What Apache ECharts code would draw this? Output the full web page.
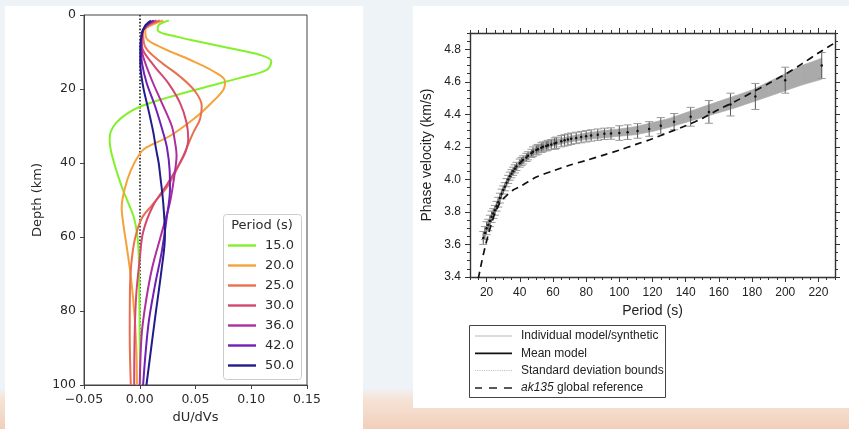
<!DOCTYPE html>
<html><head><meta charset="utf-8">
<script src="https://cdn.jsdelivr.net/npm/echarts@6/dist/echarts.min.js"></script>
<style>
html,body{margin:0;padding:0;width:849px;height:429px;overflow:hidden;
background:linear-gradient(to bottom,#eef3f8 0px,#eef3f8 388px,#f6e4d8 398px,#f2cfb9 429px);}
.card{position:absolute;background:#fff;}
#c1{left:5px;top:6px;width:358px;height:423px;}
#c2{left:413px;top:6px;width:436px;height:402px;}
#chart{position:absolute;left:0;top:0;width:849px;height:429px;}
</style></head><body>
<div class="card" id="c1"></div><div class="card" id="c2"></div>
<div id="chart"></div>
<script>
// ---------- Left panel: sensitivity kernels [dU/dVs, depth km] ----------
const periodsLeft = ['15.0','20.0','25.0','30.0','36.0','42.0','50.0'];
const k15 = [[0.026,1.5],[0.017,2.7],[0.016,4.0],[0.020,4.9],[0.030,5.6],[0.045,6.7],[0.081,9.0],[0.108,10.8],[0.118,12.5],[0.114,14.8],[0.090,17.0],[0.060,19.4],[0.024,22.4],[0.0,24.8],[-0.012,26.8],[-0.021,29.1],[-0.026,31.5],[-0.027,33.6],[-0.026,36.5],[-0.022,41],[-0.016,46.5],[-0.010,51],[-0.005,55],[-0.002,60],[-0.0008,66],[-0.0004,75],[0.0,88],[0.0005,100]];
const k20 = [[0.021,1.5],[0.010,2.8],[0.005,4.0],[0.006,6.3],[0.021,9.0],[0.045,12.1],[0.066,15.2],[0.0765,17.9],[0.075,20.2],[0.0645,23.7],[0.048,28.2],[0.027,32.7],[0.006,35.8],[0.0,37.5],[-0.008,42],[-0.0135,47],[-0.0162,52],[-0.0145,57],[-0.011,64],[-0.0075,72],[-0.0045,82],[-0.003,91],[-0.0025,100]];
const k25 = [[0.018,1.5],[0.008,2.8],[0.003,4.5],[0.0047,8.5],[0.018,12.5],[0.036,16.6],[0.0496,20.6],[0.0556,24.6],[0.054,28.2],[0.048,31.8],[0.0376,39],[0.0256,46],[0.0107,51.5],[0.0017,55],[-0.0043,60.5],[-0.0075,67],[-0.0087,73],[-0.009,86],[-0.008,100]];
const k30 = [[0.015,1.5],[0.007,2.8],[0.0017,4.9],[0.002,8.5],[0.012,13.4],[0.0256,18.4],[0.036,23.7],[0.042,29.1],[0.0435,33.6],[0.041,37],[0.036,40],[0.024,46],[0.012,51.5],[0.003,58.7],[0.0,66],[-0.003,75],[-0.0045,85.6],[-0.005,100]];
const k36 = [[0.013,1.5],[0.006,2.8],[0.002,5],[0.0015,8.5],[0.003,11.2],[0.0107,17.5],[0.0197,23.7],[0.0287,30],[0.0317,34.5],[0.033,38],[0.0317,42],[0.0271,50.6],[0.019,59.6],[0.011,68.5],[0.0055,77.5],[0.0017,86.5],[0.0,100]];
const k42 = [[0.012,1.5],[0.006,2.8],[0.002,5],[0.001,9],[0.002,13],[0.0062,18.4],[0.0137,24.6],[0.021,31.8],[0.0245,36],[0.0268,42],[0.0271,47],[0.0241,55],[0.0197,64],[0.0137,73],[0.0077,83.8],[0.003,100]];
const k50 = [[0.010,1.5],[0.005,2.8],[0.002,5],[0.0005,9],[0.0005,13],[0.003,19.3],[0.0077,25.5],[0.0122,31.8],[0.0145,36],[0.017,40],[0.018,42.5],[0.021,50.6],[0.0226,59.6],[0.0197,68.5],[0.0137,82],[0.006,100]];
const kernels = [k15,k20,k25,k30,k36,k42,k50];
const leftColors = ['#84f02c','#f5a23a','#e8704f','#d4486f','#ae2ea0','#7020b2','#221c8a'];

// ---------- Right panel: phase velocity ----------
const xMajorTicks = [20,40,60,80,100,120,140,160,180,200,220];
const yMajorTicks = [3.4,3.6,3.8,4.0,4.2,4.4,4.6,4.8];
const measPeriods = [18,19,20,21,22,23,24,25,26,27,28,29,30,31,32,33,34,35,36,37,38,40,41,42,44,45,47,48,50,51,53,54,56,57,59,61,62,65,67,69,71,74,77,80,83,87,91,95,100,105,111,118,125,133,143,154,167,182,200,222];
const meanVel = [3.64,3.67,3.70,3.72,3.745,3.77,3.79,3.81,3.835,3.86,3.885,3.91,3.935,3.955,3.98,4.00,4.02,4.035,4.05,4.065,4.08,4.10,4.11,4.12,4.135,4.145,4.16,4.17,4.18,4.185,4.195,4.20,4.205,4.21,4.215,4.22,4.225,4.235,4.24,4.245,4.25,4.255,4.26,4.265,4.27,4.275,4.28,4.282,4.285,4.29,4.298,4.31,4.33,4.355,4.385,4.415,4.46,4.51,4.61,4.70];
const stdVel = [0.04,0.04,0.04,0.035,0.035,0.035,0.03,0.03,0.03,0.03,0.03,0.03,0.025,0.025,0.025,0.025,0.025,0.025,0.025,0.025,0.025,0.025,0.025,0.025,0.025,0.025,0.025,0.03,0.03,0.03,0.03,0.03,0.03,0.03,0.03,0.035,0.035,0.035,0.035,0.035,0.035,0.035,0.035,0.035,0.035,0.035,0.035,0.035,0.045,0.045,0.045,0.045,0.05,0.05,0.058,0.07,0.07,0.08,0.08,0.08];
const bandPeriods = [18,20,25,30,35,40,50,60,70,80,90,100,110,120,130,140,150,160,170,180,190,200,210,222];
const bandLower = [3.62,3.68,3.79,3.915,4.015,4.08,4.165,4.205,4.23,4.245,4.255,4.265,4.275,4.295,4.32,4.35,4.38,4.41,4.44,4.475,4.51,4.545,4.58,4.615];
const bandUpper = [3.665,3.72,3.835,3.955,4.055,4.12,4.20,4.24,4.265,4.285,4.30,4.31,4.325,4.35,4.375,4.41,4.445,4.48,4.515,4.55,4.60,4.65,4.70,4.745];
const akPeriods = [15,17,19,21,23,25,27,29,32,36,40,45,50,60,70,80,90,100,110,120,130,140,150,160,170,180,190,200,210,220,230];
const akVel = [3.39,3.49,3.58,3.66,3.73,3.79,3.835,3.87,3.90,3.935,3.955,3.985,4.015,4.052,4.087,4.117,4.148,4.18,4.215,4.25,4.29,4.33,4.375,4.43,4.48,4.535,4.59,4.646,4.71,4.777,4.84];

const chart = echarts.init(document.getElementById('chart'), null, {renderer:'canvas'});
const FL = 'DejaVu Sans', FR = 'Liberation Sans';
const leftTxt = '#2a2a2a', rightTxt = '#222';

let dotted = '';
for (let i = 0; i < 37; i += 2.2) dotted += 'M' + i.toFixed(1) + ',0H' + (i+1.1).toFixed(1) + 'V0.8H' + i.toFixed(1) + 'Z ';

function rAxisBase(extra) {
  return Object.assign({type:'value', gridIndex:1, splitLine:{show:false},
    axisLine:{show:true, onZero:false, lineStyle:{color:'#333', width:1.4}},
    axisLabel:{show:false}}, extra);
}

const series = [];
kernels.forEach((k, i) => {
  const s = {name: periodsLeft[i], type:'line', xAxisIndex:0, yAxisIndex:0, data:k,
    smooth:0.35, symbol:'none', lineStyle:{width:2, color:leftColors[i]}, itemStyle:{color:leftColors[i]}, z:3};
  if (i === 0) {
    s.markLine = {silent:true, symbol:['none','none'], label:{show:false},
      lineStyle:{type:[1.6,1.8], color:'#333', width:1.8}, data:[{xAxis:0}], z:2};
  }
  series.push(s);
});

// band of individual models: one quadrilateral per consecutive pair of band points
const bandSegs = bandPeriods.slice(0, -1).map((p, i) =>
  [p, bandLower[i], bandUpper[i], bandPeriods[i+1], bandLower[i+1], bandUpper[i+1]]);
series.push({name:'Individual model/synthetic', type:'custom', xAxisIndex:1, yAxisIndex:1,
  data: bandSegs, encode:{x:[0,3], y:[1,2,4,5]}, itemStyle:{color:'#b8b8b8'}, z:1, silent:true,
  renderItem:(params, api) => {
    const a = api.coord([api.value(0), api.value(1)]), b = api.coord([api.value(3), api.value(4)]);
    const c = api.coord([api.value(3), api.value(5)]), d = api.coord([api.value(0), api.value(2)]);
    return {type:'polygon', shape:{points:[a, b, c, d]},
      style:{fill:'#aaaaaa', stroke:'#aaaaaa', lineWidth:0.6}};
  }});
series.push({name:'ak135 global reference', type:'line', xAxisIndex:1, yAxisIndex:1,
  data: akPeriods.map((p,i)=>[p, akVel[i]]), symbol:'none', smooth:0.3,
  lineStyle:{color:'#111', width:1.7, type:[7,5]}, itemStyle:{color:'#111'}, z:5});
series.push({name:'Standard deviation bounds', type:'custom', xAxisIndex:1, yAxisIndex:1,
  data: measPeriods.map((p,i)=>[p, meanVel[i], stdVel[i]]), encode:{x:0, y:1}, itemStyle:{color:'#999'}, z:3,
  renderItem:(params, api) => {
    const x = api.value(0), m = api.value(1), s = api.value(2);
    const t = api.coord([x, m+s]), b = api.coord([x, m-s]);
    const hw = 4;
    return {type:'group', children:[
      {type:'line', shape:{x1:t[0], y1:t[1], x2:b[0], y2:b[1]}, style:{stroke:'#555', lineWidth:1}},
      {type:'line', shape:{x1:t[0]-hw, y1:t[1], x2:t[0]+hw, y2:t[1]}, style:{stroke:'#999', lineWidth:1}},
      {type:'line', shape:{x1:b[0]-hw, y1:b[1], x2:b[0]+hw, y2:b[1]}, style:{stroke:'#999', lineWidth:1}}
    ]};
  }});
series.push({name:'Mean model', type:'line', xAxisIndex:1, yAxisIndex:1,
  data: measPeriods.map((p,i)=>[p, meanVel[i]]), symbol:'circle', symbolSize:2.5,
  lineStyle:{opacity:0}, itemStyle:{color:'#111'}, z:6});

const option = {
  animation:false,
  grid:[
    {left:84, top:15, width:223, height:372, show:true, borderColor:'#444', borderWidth:1, backgroundColor:'transparent'},
    {left:470, top:33, width:365, height:244}
  ],
  xAxis:[
    {type:'value', gridIndex:0, min:-0.05, max:0.15, interval:0.05, splitLine:{show:false},
      axisLine:{show:true, onZero:false, lineStyle:{color:'#444', width:1}},
      axisTick:{show:true, length:4, lineStyle:{color:'#444'}},
      axisLabel:{fontFamily:FL, fontSize:12.5, color:leftTxt, margin:8,
        formatter:v => Math.abs(v) < 1e-9 ? '0.00' : v.toFixed(2).replace('-', '\u2212')},
      name:'dU/dVs', nameLocation:'middle', nameGap:26, nameTextStyle:{fontFamily:FL, fontSize:13, color:leftTxt}},
    rAxisBase({position:'bottom', min:10, max:230, interval:10,
      axisTick:{show:true, length:5, customValues:xMajorTicks, lineStyle:{color:'#333'}},
      axisLabel:{show:true, customValues:xMajorTicks, fontFamily:FR, fontSize:12, color:rightTxt, margin:10},
      name:'Period (s)', nameLocation:'middle', nameGap:26, nameTextStyle:{fontFamily:FR, fontSize:14, color:rightTxt}}),
    rAxisBase({position:'bottom', min:10, max:230, interval:5, axisLine:{show:false, onZero:false},
      axisTick:{show:true, length:3, lineStyle:{color:'#333'}}}),
    rAxisBase({position:'top', min:10, max:230, interval:10,
      axisTick:{show:true, length:5, customValues:xMajorTicks, lineStyle:{color:'#333'}}}),
    rAxisBase({position:'top', min:10, max:230, interval:5, axisLine:{show:false, onZero:false},
      axisTick:{show:true, length:3, lineStyle:{color:'#333'}}})
  ],
  yAxis:[
    {type:'value', gridIndex:0, min:0, max:100, interval:20, inverse:true, splitLine:{show:false},
      axisLine:{show:true, onZero:false, lineStyle:{color:'#444', width:1}},
      axisTick:{show:true, length:4, lineStyle:{color:'#444'}},
      axisLabel:{fontFamily:FL, fontSize:12.5, color:leftTxt, margin:8},
      name:'Depth (km)', nameLocation:'middle', nameGap:40, nameTextStyle:{fontFamily:FL, fontSize:13, color:leftTxt}},
    rAxisBase({position:'left', min:3.4, max:4.9, interval:0.1,
      axisTick:{show:true, length:5, customValues:yMajorTicks, lineStyle:{color:'#333'}},
      axisLabel:{show:true, customValues:yMajorTicks, fontFamily:FR, fontSize:12, color:rightTxt, margin:9,
        formatter:v => v.toFixed(1)},
      name:'Phase velocity (km/s)', nameLocation:'middle', nameGap:36, nameTextStyle:{fontFamily:FR, fontSize:14, color:rightTxt}}),
    rAxisBase({position:'left', min:3.4, max:4.9, interval:0.05, axisLine:{show:false, onZero:false},
      axisTick:{show:true, length:3, lineStyle:{color:'#333'}}}),
    rAxisBase({position:'right', min:3.4, max:4.9, interval:0.1,
      axisTick:{show:true, length:5, customValues:yMajorTicks, lineStyle:{color:'#333'}}}),
    rAxisBase({position:'right', min:3.4, max:4.9, interval:0.05, axisLine:{show:false, onZero:false},
      axisTick:{show:true, length:3, lineStyle:{color:'#333'}}})
  ],
  legend:[
    {data: periodsLeft.map((p,i)=>({name:p, icon:'path://M0,0H28V2.4H0Z', itemStyle:{color:leftColors[i]}})),
      orient:'vertical', left:228, top:239, itemWidth:28, itemHeight:10, itemGap:7, padding:0, z:20,
      selectedMode:false, itemStyle:{borderWidth:0},
      textStyle:{fontFamily:FL, fontSize:13, color:leftTxt, padding:[0,0,0,4]}},
    {data:[
        {name:'Individual model/synthetic', icon:'path://M0,0H37V0.8H0Z', itemStyle:{color:'#b8b8b8'}},
        {name:'Mean model', icon:'path://M0,0H37V1.8H0Z', itemStyle:{color:'#111'}},
        {name:'Standard deviation bounds', icon:'path://' + dotted, itemStyle:{color:'#aaa'}},
        {name:'ak135 global reference', icon:'path://M0,0H7V1.5H0Z M14,0H22V1.5H14Z M29,0H37V1.5H29Z', itemStyle:{color:'#222'}}
      ],
      orient:'vertical', left:475, top:330, itemWidth:37, itemHeight:8, itemGap:5.3, padding:0, z:20,
      selectedMode:false, itemStyle:{borderWidth:0},
      formatter: n => n === 'ak135 global reference' ? '{i|ak135} global reference' : n,
      textStyle:{fontFamily:FR, fontSize:12, color:rightTxt, padding:[0,0,0,4],
        rich:{i:{fontFamily:FR, fontSize:12, fontStyle:'italic', color:rightTxt}}}}
  ],
  graphic:[
    {type:'rect', left:223, top:214, shape:{width:78, height:165, r:3}, z:10,
      style:{fill:'rgba(255,255,255,0.85)', stroke:'#cccccc', lineWidth:1}},
    {type:'text', x:262, y:226, z:21, style:{text:'Period (s)', fontFamily:FL, fontSize:13, fill:leftTxt, align:'center', verticalAlign:'middle'}},
    {type:'rect', left:469, top:325, shape:{width:196, height:72}, z:10,
      style:{fill:'#fff', stroke:'#444', lineWidth:1}}
  ],
  series: series
};
chart.setOption(option);
</script></body></html>
